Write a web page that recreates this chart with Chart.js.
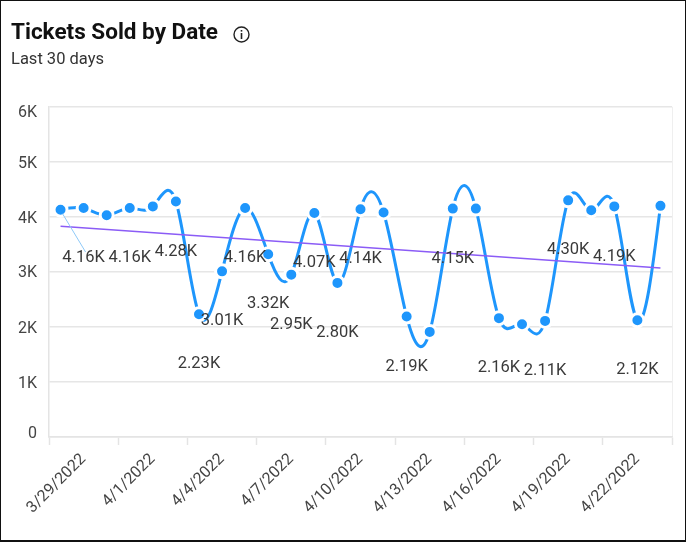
<!DOCTYPE html>
<html>
<head>
<meta charset="utf-8">
<title>Tickets Sold by Date</title>
<script src="https://cdn.jsdelivr.net/npm/chart.js@4/dist/chart.umd.js"></script>
<style>
  html, body { margin: 0; padding: 0; background: #fff; }
  #wrap { position: relative; width: 686px; height: 542px; overflow: hidden; }
  #frame { position: absolute; left: 0; top: 0; width: 686px; height: 542px; box-sizing: border-box; border: solid #111; border-width: 1px 1px 2px 1px; pointer-events: none; }
</style>
</head>
<body>
<div id="wrap">
  <canvas id="myChart" width="686" height="542"></canvas>
  <div id="frame"></div>
</div>
<script>
const dates = ['3/29/2022', '3/30/2022', '3/31/2022', '4/1/2022', '4/2/2022', '4/3/2022', '4/4/2022', '4/5/2022', '4/6/2022',
  '4/7/2022', '4/8/2022', '4/9/2022', '4/10/2022', '4/11/2022', '4/12/2022', '4/13/2022', '4/14/2022', '4/15/2022',
  '4/16/2022', '4/17/2022', '4/18/2022', '4/19/2022', '4/20/2022', '4/21/2022', '4/22/2022', '4/23/2022', '4/24/2022'];
const tickets = [4130, 4160, 4030, 4160, 4190, 4280, 2230, 3010, 4160,
  3320, 2950, 4070, 2800, 4140, 4080, 2190, 1910, 4150,
  4150, 2160, 2050, 2110, 4300, 4120, 4190, 2120, 4200];
const trend = [3830, null, null, null, null, null, null, null, null,
  null, null, null, null, null, null, null, null, null,
  null, null, null, null, null, null, null, null, 3070];
// only these points carry a value label in the picture
const valueLabels = [null, '4.16K', null, '4.16K', null, '4.28K', '2.23K', '3.01K', '4.16K',
  '3.32K', '2.95K', '4.07K', '2.80K', '4.14K', null, '2.19K', null, '4.15K',
  null, '2.16K', null, '2.11K', '4.30K', null, '4.19K', '2.12K', null];
const yTicks = ['0', '1K', '2K', '3K', '4K', '5K', '6K'];

const FONT = 'Roboto, sans-serif';
const LABEL_DROP = 50;
const Y_LABEL_NUDGE = [-3.5, 2, 2, 1.5, 2, 2.5, 6.5];

// natural cubic spline through the pixel positions of the line's points
function naturalControlPoints(points) {
  const n = points.length - 1;
  const solve = key => {
    const a = [], b = [], c = [], r = [];
    for (let i = 0; i < n; i++) {
      a[i] = i === 0 ? 0 : (i === n - 1 ? 2 : 1);
      b[i] = i === 0 ? 2 : (i === n - 1 ? 7 : 4);
      c[i] = 1;
      r[i] = i === 0 ? points[0][key] + 2 * points[1][key]
        : i === n - 1 ? 8 * points[n - 1][key] + points[n][key]
        : 4 * points[i][key] + 2 * points[i + 1][key];
    }
    for (let i = 1; i < n; i++) {
      const m = a[i] / b[i - 1];
      b[i] -= m * c[i - 1];
      r[i] -= m * r[i - 1];
    }
    const p1 = [];
    p1[n - 1] = r[n - 1] / b[n - 1];
    for (let i = n - 2; i >= 0; i--) p1[i] = (r[i] - c[i] * p1[i + 1]) / b[i];
    const p2 = [];
    for (let i = 0; i < n - 1; i++) p2[i] = 2 * points[i + 1][key] - p1[i + 1];
    p2[n - 1] = (points[n][key] + p1[n - 1]) / 2;
    return [p1, p2];
  };
  const [x1, x2] = solve('x');
  const [y1, y2] = solve('y');
  for (let i = 0; i < n; i++) {
    points[i].cp2x = x1[i];
    points[i].cp2y = y1[i];
    points[i + 1].cp1x = x2[i];
    points[i + 1].cp1y = y2[i];
  }
}

const splinePlugin = {
  id: 'spline',
  afterDatasetUpdate(chart, args) {
    if (args.index !== 0) return;
    const line = chart.getDatasetMeta(0).dataset;
    line.updateControlPoints(chart.chartArea);
    naturalControlPoints(line.points);
  }
};

const labelsPlugin = {
  id: 'extras',
  afterDraw(chart) {
    const ctx = chart.ctx;
    const y = chart.scales.y;
    const pts = chart.getDatasetMeta(0).data;
    ctx.save();

    // leader line of the first label
    ctx.strokeStyle = '#8ec9f8';
    ctx.lineWidth = 1;
    ctx.beginPath();
    ctx.moveTo(pts[0].x + 2, pts[0].y + 4);
    ctx.lineTo(pts[1].x + 2, pts[1].y + LABEL_DROP - 6);
    ctx.stroke();

    ctx.textAlign = 'center';
    ctx.textBaseline = 'middle';
    ctx.fillStyle = '#3a3a3a';
    ctx.font = '16.5px ' + FONT;
    valueLabels.forEach((text, i) => {
      if (text) ctx.fillText(text, pts[i].x, pts[i].y + LABEL_DROP);
    });

    // y labels are pulled inward at both ends of the axis
    ctx.textAlign = 'right';
    ctx.font = '16px ' + FONT;
    ctx.fillStyle = '#444';
    yTicks.forEach((text, i) => {
      ctx.fillText(text, 37, y.getPixelForValue(i * 1000) + Y_LABEL_NUDGE[i]);
    });

    // info icon next to the title
    ctx.strokeStyle = '#222';
    ctx.lineWidth = 1.4;
    ctx.beginPath();
    ctx.arc(241.5, 34.5, 7.5, 0, Math.PI * 2);
    ctx.stroke();
    ctx.fillStyle = '#222';
    ctx.fillRect(240.7, 33, 1.6, 6);
    ctx.fillRect(240.7, 30, 1.6, 1.6);
    ctx.restore();
  }
};

new Chart(document.getElementById('myChart'), {
  type: 'line',
  data: {
    labels: dates,
    datasets: [{
      data: tickets,
      borderColor: '#1e96fc',
      borderWidth: 3,
      tension: 0.4,
      clip: false,
      pointRadius: 6.5,
      pointHoverRadius: 6.5,
      pointBorderWidth: 3,
      pointBackgroundColor: '#1e96fc',
      pointBorderColor: '#fff',
      order: 1
    }, {
      data: trend,
      spanGaps: true,
      borderColor: '#8b5cf6',
      borderWidth: 1.5,
      pointRadius: 0,
      order: 0
    }]
  },
  options: {
    responsive: false,
    animation: false,
    layout: { padding: { left: 11, right: 14, top: 11, bottom: 0 } },
    plugins: {
      legend: { display: false },
      tooltip: { enabled: false },
      title: {
        display: true,
        text: 'Tickets Sold by Date',
        align: 'start',
        color: '#111',
        font: { family: FONT, size: 22.5, weight: '700' },
        padding: { top: 9, bottom: 3 }
      },
      subtitle: {
        display: true,
        text: 'Last 30 days',
        align: 'start',
        color: '#333',
        font: { family: FONT, size: 16.5, weight: '400' },
        padding: { top: 0, bottom: 37 }
      }
    },
    scales: {
      x: {
        offset: true,
        afterFit(scale) { scale.height = 105; },
        border: { color: '#e4e4e4', width: 1.5 },
        grid: {
          offset: true,
          tickLength: 8,
          tickWidth: 1.5,
          color: ctx => (ctx.index === undefined ? '#efefef' : 'transparent'),
          tickColor: ctx => (ctx.index === undefined || ctx.index % 3 === 0 ? '#e4e4e4' : 'transparent')
        },
        ticks: {
          autoSkip: false,
          minRotation: 45,
          maxRotation: 45,
          labelOffset: 23,
          padding: 5,
          color: '#444',
          font: { family: FONT, size: 16 },
          callback(value, index) { return index % 3 === 0 ? dates[index] : ''; }
        }
      },
      y: {
        min: 0,
        max: 6000,
        afterFit(scale) { scale.width = 38; },
        border: { color: '#e4e4e4', width: 1.5 },
        grid: { color: '#e6e6e6', lineWidth: 1.5, drawTicks: false },
        ticks: { stepSize: 1000, display: false }
      }
    }
  },
  plugins: [splinePlugin, labelsPlugin]
});
</script>
</body>
</html>
